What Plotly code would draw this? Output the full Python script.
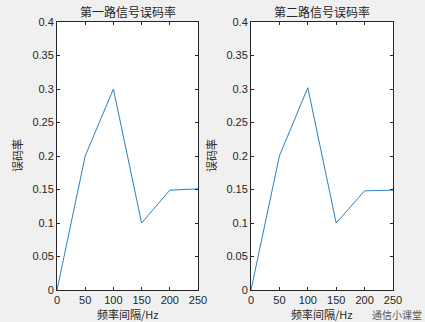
import plotly.graph_objects as go

freq = [0, 50, 100, 150, 200, 250]
ber1 = [0.0, 0.2, 0.3, 0.1, 0.149, 0.151]
ber2 = [0.0, 0.2, 0.302, 0.1, 0.148, 0.149]
titles = ["第一路信号误码率", "第二路信号误码率"]
xlabel = "频率间隔/Hz"
ylabel = "误码率"
xticks = [0, 50, 100, 150, 200, 250]
yticks = [0, 0.05, 0.1, 0.15, 0.2, 0.25, 0.3, 0.35, 0.4]
ytext = ["0", "0.05", "0.1", "0.15", "0.2", "0.25", "0.3", "0.35", "0.4"]

W, H = 425, 322
font = "Liberation Sans, Arial, sans-serif"
cjk = "Noto Sans CJK SC"
axcol = "#262626"
linecol = "#2683C9"

fig = go.Figure()
fig.add_trace(go.Scatter(x=freq, y=ber1, mode="lines", line=dict(color=linecol, width=1),
                         xaxis="x", yaxis="y", showlegend=False))
fig.add_trace(go.Scatter(x=freq, y=ber2, mode="lines", line=dict(color=linecol, width=1),
                         xaxis="x2", yaxis="y2", showlegend=False))

ydom = [1 - 290 / H, 1 - 22 / H]
xdom1 = [57 / W, 198 / W]
xdom2 = [251 / W, 393 / W]

def xax(dom, anchor):
    return dict(domain=dom, anchor=anchor, range=[0, 250], tickvals=xticks,
                ticks="inside", ticklen=3, tickcolor=axcol, showline=True, linecolor=axcol,
                linewidth=1, mirror="ticks", showgrid=False, zeroline=False, automargin=False,
                tickfont=dict(family=font, size=11, color=axcol))

def yax(anchor):
    return dict(domain=ydom, anchor=anchor, range=[0, 0.4], tickvals=yticks, ticktext=ytext,
                ticks="inside", ticklen=3, tickcolor=axcol, showline=True, linecolor=axcol,
                linewidth=1, mirror="ticks", showgrid=False, zeroline=False, automargin=False,
                tickfont=dict(family=font, size=11, color=axcol))

ann = []
for i, (dom, t) in enumerate([(xdom1, titles[0]), (xdom2, titles[1])]):
    cx = (dom[0] + dom[1]) / 2
    ann.append(dict(text=t, x=cx, y=1 - 11 / H, xref="paper", yref="paper", showarrow=False,
                    font=dict(family=cjk, size=12, color=axcol), xanchor="center", yanchor="middle"))
    ann.append(dict(text=xlabel, x=cx, y=1 - 314 / H, xref="paper", yref="paper", showarrow=False,
                    font=dict(family=cjk, size=11, color=axcol), xanchor="center", yanchor="middle"))
ann.append(dict(text=ylabel, x=17 / W, y=(ydom[0] + ydom[1]) / 2, xref="paper", yref="paper",
                showarrow=False, textangle=-90, font=dict(family=cjk, size=11, color=axcol),
                xanchor="center", yanchor="middle"))
ann.append(dict(text=ylabel, x=211 / W, y=(ydom[0] + ydom[1]) / 2, xref="paper", yref="paper",
                showarrow=False, textangle=-90, font=dict(family=cjk, size=11, color=axcol),
                xanchor="center", yanchor="middle"))
ann.append(dict(text="通信小课堂", x=424 / W, y=1 - 314 / H, xref="paper", yref="paper",
                showarrow=False, font=dict(family=cjk, size=10, color="#555555"),
                xanchor="right", yanchor="middle"))

fig.update_layout(
    width=W, height=H,
    margin=dict(l=0, r=0, t=0, b=0, pad=0, autoexpand=False),
    paper_bgcolor="#f0f0f0", plot_bgcolor="#ffffff",
    xaxis=xax(xdom1, "y"), yaxis=yax("x"),
    xaxis2=xax(xdom2, "y2"), yaxis2=yax("x2"),
    annotations=ann,
)

fig.write_html("out.html")
